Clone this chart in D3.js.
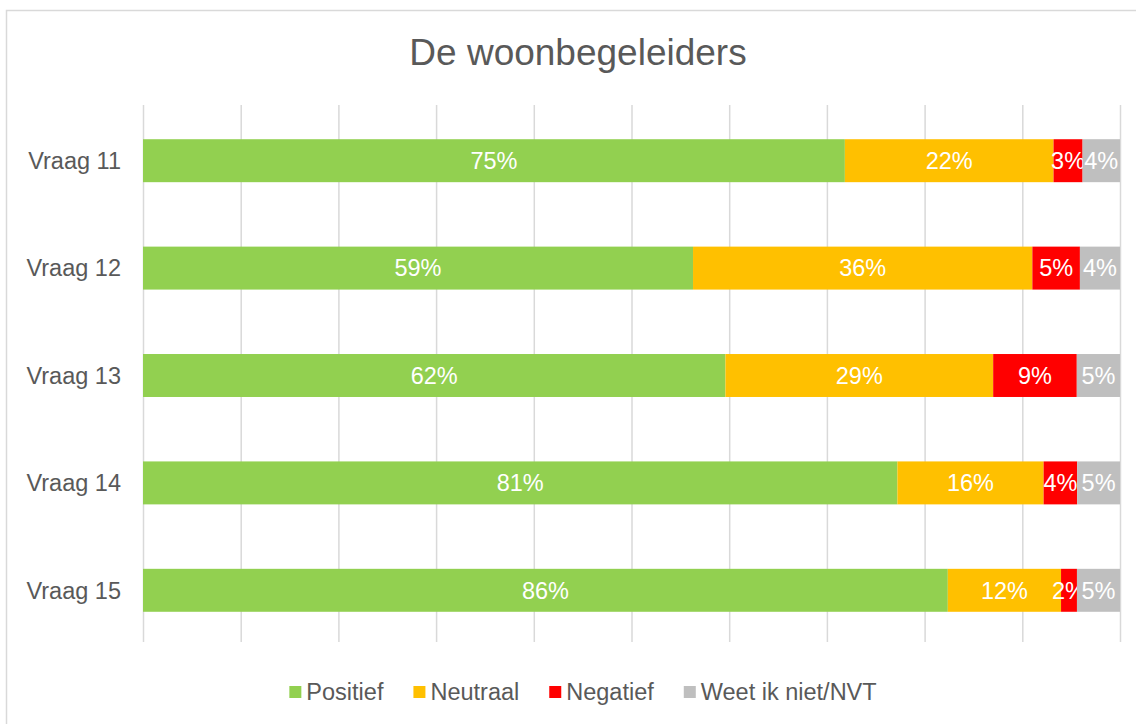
<!DOCTYPE html>
<html>
<head>
<meta charset="utf-8">
<title>De woonbegeleiders</title>
<script src="https://cdn.jsdelivr.net/npm/d3@7"></script>
<style>
  body { margin: 0; background: #fff; }
  svg text { font-family: "Liberation Sans", Arial, sans-serif; }
</style>
</head>
<body>
<svg id="svg"></svg>
<script>
var width = 1136, height = 724;
var margin = {top: 107, left: 143, right: 16, bottom: 80};

// data (percentages; labels show them rounded)
var categories = ["Vraag 11", "Vraag 12", "Vraag 13", "Vraag 14", "Vraag 15"];
var series = ["Positief", "Neutraal", "Negatief", "Weet ik niet/NVT"];
var positief = [75, 59, 62, 81, 86];
var neutraal = [22.3, 36.4, 28.5, 15.7, 12.1];
var negatief = [3.1, 5.1, 8.9, 3.6, 1.7];
var weetNiet = [4.0, 4.3, 4.6, 4.6, 4.6];
var colors = ["#92D050", "#FFC000", "#FF0000", "#BFBFBF"];
var gridTicks = [0, 0.1, 0.2, 0.3, 0.4, 0.5, 0.6, 0.7, 0.8, 0.9, 1];

var rows = categories.map(function(c, i) {
  return {cat: c, "Positief": positief[i], "Neutraal": neutraal[i],
          "Negatief": negatief[i], "Weet ik niet/NVT": weetNiet[i]};
});

var svg = d3.select("#svg").attr("width", width).attr("height", height);

// chart area border (Excel style)
svg.append("rect")
  .attr("x", 6.5).attr("y", 10.5)
  .attr("width", 1200).attr("height", 800)
  .attr("fill", "#fff").attr("stroke", "#D9D9D9").attr("stroke-width", 1.5);

// title
svg.append("text")
  .attr("x", 578).attr("y", 65)
  .attr("text-anchor", "middle")
  .attr("font-size", 37)
  .attr("fill", "#595959")
  .text("De woonbegeleiders");

var x = d3.scaleLinear().domain([0, 1]).range([margin.left, 1120]);
var y = d3.scaleBand().domain(categories)
  .range([margin.top, 644])
  .paddingInner(0.6).paddingOuter(0.3);

// gridlines
var grid = svg.append("g")
  .attr("transform", "translate(0,644)")
  .call(d3.axisBottom(x).tickValues(gridTicks).tickSize(-(644 - margin.top + 2)).tickFormat(""));
grid.select(".domain").remove();
grid.selectAll(".tick line").attr("stroke", "#D9D9D9").attr("stroke-width", 1.5)
  .attr("y1", -2);

// category labels
svg.append("g").selectAll("text")
  .data(categories)
  .enter().append("text")
  .attr("x", 121)
  .attr("y", function(d) { return y(d) + y.bandwidth() / 2; })
  .attr("dy", "0.35em")
  .attr("text-anchor", "end")
  .attr("font-size", 23.5)
  .attr("fill", "#595959")
  .text(function(d) { return d; });

// stacked bars (100%)
var stacked = d3.stack().keys(series).offset(d3.stackOffsetExpand)(rows);

var layers = svg.append("g").selectAll("g")
  .data(stacked)
  .enter().append("g")
  .attr("fill", function(d, i) { return colors[i]; });

layers.selectAll("rect")
  .data(function(d) { return d; })
  .enter().append("rect")
  .attr("x", function(d) { return x(d[0]); })
  .attr("y", function(d) { return y(d.data.cat); })
  .attr("width", function(d) { return x(d[1]) - x(d[0]); })
  .attr("height", y.bandwidth());

// data labels
layers.each(function(layer) {
  d3.select(this).selectAll("text")
    .data(layer)
    .enter().append("text")
    .attr("x", function(d) { return (x(d[0]) + x(d[1])) / 2; })
    .attr("y", function(d) { return y(d.data.cat) + y.bandwidth() / 2; })
    .attr("dy", "0.35em")
    .attr("text-anchor", "middle")
    .attr("font-size", 23.5)
    .attr("fill", "#fff")
    .text(function(d) { return Math.round(d.data[layer.key]) + "%"; });
});

// legend
var legend = svg.append("g");
var lx = 0;
series.forEach(function(s, i) {
  var item = legend.append("g").attr("transform", "translate(" + lx + ",0)");
  item.append("rect").attr("x", 0).attr("y", -6).attr("width", 12).attr("height", 12)
    .attr("fill", colors[i]);
  var t = item.append("text").attr("x", 17).attr("y", 0).attr("dy", "0.35em")
    .attr("font-size", 23.5).attr("fill", "#595959").text(s);
  lx += 17 + t.node().getComputedTextLength() + 30;
});
lx -= 30;
legend.attr("transform", "translate(" + (583 - lx / 2) + ",692)");
</script>
</body>
</html>
